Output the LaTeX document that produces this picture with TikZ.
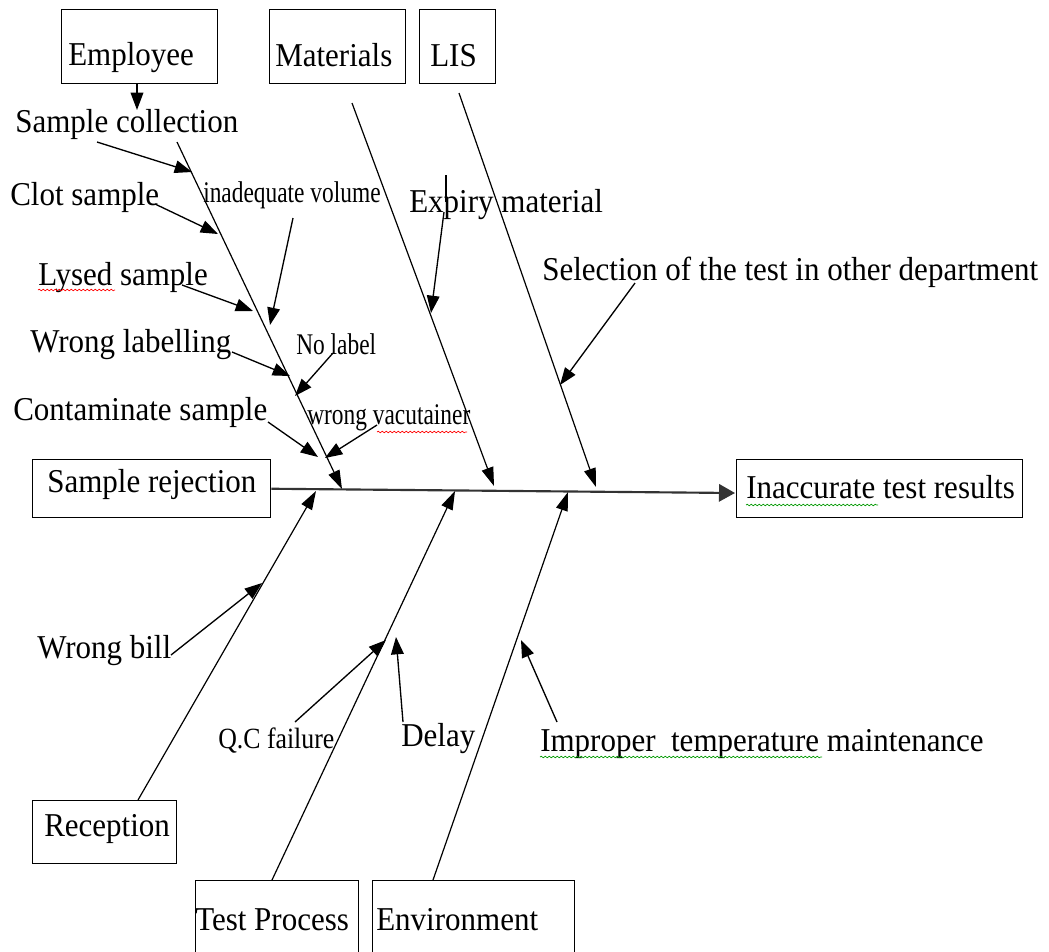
\documentclass[tikz,border=0pt]{standalone}
\usepackage{fontspec}
\setmainfont{Liberation Serif}
\newfontfamily\bigf[FakeStretch=0.93]{Liberation Serif}
\newfontfamily\smallf[FakeStretch=0.78]{Liberation Serif}
\newfontfamily\midf[FakeStretch=0.88]{Liberation Serif}
\usetikzlibrary{arrows.meta,decorations.pathmorphing}
\begin{document}
\begin{tikzpicture}[x=0.75pt,y=-0.75pt,
  box/.style={draw, line width=1.1pt, inner sep=0pt, anchor=north west},
  big/.style={font=\bigf\fontsize{25}{28}\selectfont, inner sep=0pt, anchor=base west},
  small/.style={font=\smallf\fontsize{22.5}{26}\selectfont, inner sep=0pt, anchor=base west},
  mid/.style={font=\midf\fontsize{22}{26}\selectfont, inner sep=0pt, anchor=base west},
  arr/.style={-{Triangle[length=13pt,width=9.5pt]}, line width=1pt},
  bone/.style={-{Triangle[length=14pt,width=9pt]}, line width=0.9pt},
  spine/.style={-{Triangle[length=12pt,width=13pt]}, line width=1.6pt, draw=black!80},
  wavy/.style={decorate, decoration={snake, amplitude=0.6pt, segment length=3pt}, line width=0.5pt}]
\useasboundingbox (0,0) rectangle (1049,951);
\clip (0,0) rectangle (1049,951);
\fill[white] (0,0) rectangle (1049,951);

% boxes
\node[box, minimum width=117pt, minimum height=55.5pt] (employee) at (61,9) {};
\node[box, minimum width=102pt, minimum height=55.5pt] (materials) at (269,9) {};
\node[box, minimum width=57pt, minimum height=55.5pt] (lis) at (419,9) {};
\node[box, minimum width=178.5pt, minimum height=43.5pt] (rejection) at (32,459) {};
\node[box, minimum width=214.5pt, minimum height=43.5pt] (effect) at (736,459) {};
\node[box, minimum width=108pt, minimum height=47.25pt] (reception) at (32,800) {};
\node[box, minimum width=122pt, minimum height=60pt] (testproc) at (195,880) {};
\node[box, minimum width=151.5pt, minimum height=60pt] (environment) at (372,880) {};

% box texts
\node[big] (t-employee) at (68,65) {Employee};
\node[big] (t-materials) at (275,66) {Materials};
\node[big] (t-lis) at (430,66) {LIS};
\node[big] (t-rejection) at (47,492) {Sample rejection};
\node[big] (t-effect) at (746,498) {Inaccurate test results};
\node[big] (t-reception) at (44,836) {Reception};
\node[big] (t-testproc) at (195,930) {Test Process};
\node[big] (t-environment) at (376,930) {Environment};

% cause texts
\node[big] (sc) at (15,132) {Sample collection};
\node[big] (clot) at (10,205) {Clot sample};
\node[small] (inad) at (203,202) {inadequate volume};
\node[big] (lysed) at (38,285) {Lysed sample};
\node[big] (wlab) at (30,352) {Wrong labelling};
\node[small] (nolab) at (296,354) {No label};
\node[big] (contam) at (13,420) {Contaminate sample};
\node[small] (vacu) at (307,424) {wrong vacutainer};
\node[big] (expiry) at (409,212) {Expiry material};
\node[big] (select) at (542,280) {Selection of the test in other department};
\node[big] (wbill) at (37,658) {Wrong bill};
\node[mid] (qc) at (218,748) {Q.C failure};
\node[big] (delay) at (401,746) {Delay};
\node[big] (improper) at (540,751) {Improper\ \ temperature maintenance};

% spell-check underlines
\draw[wavy, red] (38,290) -- (115,290);
\draw[wavy, red] (377,432) -- (467,432);
\draw[wavy, green!60!black] (746,505) -- (878,505);
\draw[wavy, green!60!black] (540,757) -- (822,757);
% cursor mark
\draw[line width=1.5pt] (446,175) -- (446,202);

% coordinates
\coordinate (sc-top) at (137,110);
\coordinate (eb-s) at (177,142);
\coordinate (eb-e) at (342,489);
\coordinate (mb-s) at (352,103);
\coordinate (mb-e) at (494,486);
\coordinate (lb-s) at (459,93);
\coordinate (lb-e) at (596,487);
\coordinate (rb-e) at (316,491);
\coordinate (tb-e) at (455,491);
\coordinate (vb-e) at (568,492);
\coordinate (spine-end) at (735,493);

\coordinate (sc-a) at (97,142);   \coordinate (sc-b) at (192,172);
\coordinate (cl-a) at (155,204);  \coordinate (cl-b) at (218,234);
\coordinate (in-a) at (293,218);  \coordinate (in-b) at (270,325);
\coordinate (ly-a) at (182,285);  \coordinate (ly-b) at (253,311);
\coordinate (wl-a) at (232,352);  \coordinate (wl-b) at (290,376);
\coordinate (nl-a) at (333,353);  \coordinate (nl-b) at (295,396);
\coordinate (co-a) at (268,422);  \coordinate (co-b) at (318,457);
\coordinate (va-a) at (377,425);  \coordinate (va-b) at (325,458);
\coordinate (ex-a) at (444,212);  \coordinate (ex-b) at (431,313);
\coordinate (se-a) at (635,283);  \coordinate (se-b) at (560,385);
\coordinate (wb-a) at (171,655);  \coordinate (wb-b) at (262,583);
\coordinate (qc-a) at (295,722);  \coordinate (qc-b) at (386,640);
\coordinate (de-a) at (403,722);  \coordinate (de-b) at (396,637);
\coordinate (im-a) at (557,722);  \coordinate (im-b) at (521,640);

% spine
\draw[spine] (rejection.east) -- (spine-end);

% bones
\draw[arr] (employee.south -| sc-top) -- (sc-top);
\draw[bone] (eb-s) -- (eb-e);
\draw[bone] (mb-s) -- (mb-e);
\draw[bone] (lb-s) -- (lb-e);
\draw[bone] (reception.north west) ++(106,0) coordinate (rb-s) (rb-s) -- (rb-e);
\draw[bone] (testproc.north west) ++(77,0) coordinate (tb-s) (tb-s) -- (tb-e);
\draw[bone] (environment.north west) ++(61,0) coordinate (vb-s) (vb-s) -- (vb-e);

% sub-cause arrows
\draw[arr] (sc-a) -- (sc-b);
\draw[arr] (cl-a) -- (cl-b);
\draw[arr] (in-a) -- (in-b);
\draw[arr] (ly-a) -- (ly-b);
\draw[arr] (wl-a) -- (wl-b);
\draw[arr] (nl-a) -- (nl-b);
\draw[arr] (co-a) -- (co-b);
\draw[arr] (va-a) -- (va-b);
\draw[arr] (ex-a) -- (ex-b);
\draw[arr] (se-a) -- (se-b);
\draw[arr] (wb-a) -- (wb-b);
\draw[arr] (qc-a) -- (qc-b);
\draw[arr] (de-a) -- (de-b);
\draw[arr] (im-a) -- (im-b);
\end{tikzpicture}
\end{document}
